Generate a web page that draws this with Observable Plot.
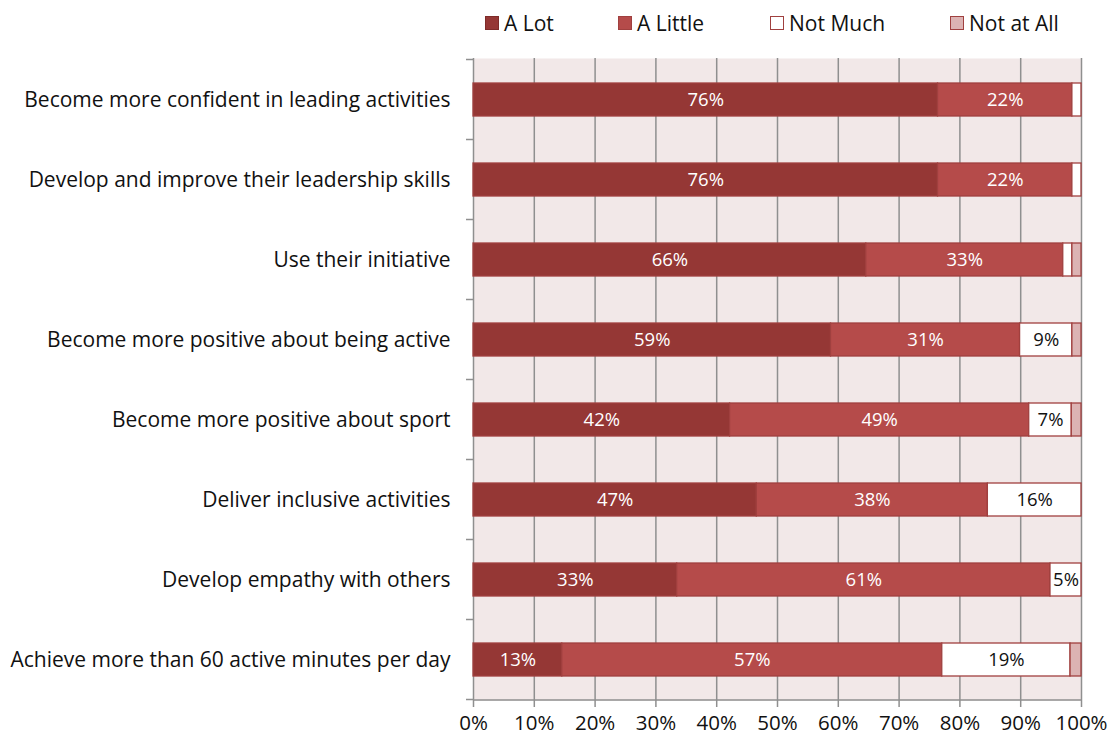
<!DOCTYPE html>
<html><head><meta charset="utf-8">
<script src="https://cdn.jsdelivr.net/npm/d3@7"></script>
<script src="https://cdn.jsdelivr.net/npm/@observablehq/plot@0.6"></script>
<style>
body{margin:0;background:#fff;font-family:"Open Sans",Lato,sans-serif;}
#legend{height:45px;position:relative;font-size:21px;color:#111;}
.item{position:absolute;top:7px;height:32px;display:flex;align-items:center;gap:5px;white-space:nowrap;}
.sw{width:12px;height:12px;display:inline-block;border:1.7px solid #a0403f;}
</style></head><body>
<div id="legend"></div>
<div id="chart"></div>
<script>
const categories = [
  "Become more confident in leading activities",
  "Develop and improve their leadership skills",
  "Use their initiative",
  "Become more positive about being active",
  "Become more positive about sport",
  "Deliver inclusive activities",
  "Develop empathy with others",
  "Achieve more than 60 active minutes per day"
];
const seriesNames = ["A Lot", "A Little", "Not Much", "Not at All"];
const seriesColors = ["#953735", "#b54b4a", "#ffffff", "#dcb3b3"];
const aLot     = [76.4, 76.4, 64.6, 58.8, 42.2, 46.6, 33.5, 14.6];
const aLittle  = [22.1, 22.1, 32.4, 31.1, 49.2, 38.0, 61.4, 62.5];
const notMuch  = [1.5, 1.5, 1.5, 8.6, 7.0, 15.4, 5.1, 21.1];
const notAtAll = [0, 0, 1.5, 1.5, 1.6, 0, 0, 1.8];
const labelsALot     = ["76%", "76%", "66%", "59%", "42%", "47%", "33%", "13%"];
const labelsALittle  = ["22%", "22%", "33%", "31%", "49%", "38%", "61%", "57%"];
const labelsNotMuch  = ["", "", "", "9%", "7%", "16%", "5%", "19%"];
const labelsNotAtAll = ["", "", "", "", "", "", "", ""];
const xTicks = [0, 10, 20, 30, 40, 50, 60, 70, 80, 90, 100];
const legendLefts = [485, 618, 770, 950];

const seriesValues = [aLot, aLittle, notMuch, notAtAll];
const seriesLabels = [labelsALot, labelsALittle, labelsNotMuch, labelsNotAtAll];
const rows = [];
categories.forEach((c, i) => {
  seriesNames.forEach((s, j) => {
    rows.push({cat: c, series: s, value: seriesValues[j][i], label: seriesLabels[j][i]});
  });
});

const legend = document.getElementById("legend");
seriesNames.forEach((s, j) => {
  const it = document.createElement("div");
  it.className = "item";
  it.style.left = legendLefts[j] + "px";
  const sw = document.createElement("span");
  sw.className = "sw";
  sw.style.background = seriesColors[j];
  if (j === 0) sw.style.borderColor = "#7e2b29";
  const t = document.createElement("span");
  t.textContent = s;
  it.appendChild(sw); it.appendChild(t);
  legend.appendChild(it);
});

const gridColor = "#8f8f8f";
const stackOpts = {x: "value", y: "cat", z: "series", order: seriesNames};
const light = new Set(["A Lot", "A Little"]);

const axisLines = (index, scales, values, dimensions) => {
  const x = scales.x, y = scales.y;
  const x0 = x(0), x1 = x(100);
  const step = y.step(), bw = y.bandwidth();
  const g = d3.create("svg:g").attr("stroke", gridColor).attr("stroke-width", 1.5).attr("fill", "none");
  const bounds = categories.map(c => y(c) - (step - bw) / 2);
  bounds.push(bounds[bounds.length - 1] + step);
  for (const b of bounds) {
    g.append("line").attr("x1", x0 - 7).attr("x2", x0).attr("y1", b).attr("y2", b);
  }
  const bottom = dimensions.height - dimensions.marginBottom;
  g.append("line").attr("x1", x0).attr("x2", x1).attr("y1", bottom).attr("y2", bottom);
  return g.node();
};

const chart = Plot.plot({
  width: 1110,
  height: 695,
  marginLeft: 473,
  marginRight: 29,
  marginTop: 13,
  marginBottom: 40,
  style: {fontFamily: "'Open Sans', Lato, sans-serif", background: "#fff", color: "#111"},
  x: {domain: [0, 100], axis: null, label: null},
  y: {domain: categories, paddingInner: 0.59, paddingOuter: 0.295, axis: null, label: null},
  color: {domain: seriesNames, range: seriesColors},
  marks: [
    Plot.frame({fill: "#f2e8e8", stroke: null}),
    Plot.ruleX(xTicks, {stroke: gridColor, strokeWidth: 1.5}),
    Plot.barX(rows, Plot.stackX({...stackOpts, fill: "series", stroke: "#a0403f", strokeWidth: 1.3})),
    Plot.text(rows, Plot.stackX({...stackOpts, text: d => light.has(d.series) ? d.label : "", fill: "#fff", fontSize: 18.5})),
    Plot.text(rows, Plot.stackX({...stackOpts, text: d => d.series === "Not Much" ? d.label : "", fill: "#111", fontSize: 18.5})),
    axisLines,
    Plot.axisX({ticks: xTicks, tickFormat: d => d + "%", tickSize: 7, tickPadding: 8, fontSize: 20.5, stroke: gridColor, fill: "#111", strokeWidth: 1.5, label: null}),
    Plot.axisY({tickSize: 0, tickPadding: 23, fontSize: 21, fill: "#111", label: null})
  ]
});
document.getElementById("chart").appendChild(chart);
</script>
</body></html>
